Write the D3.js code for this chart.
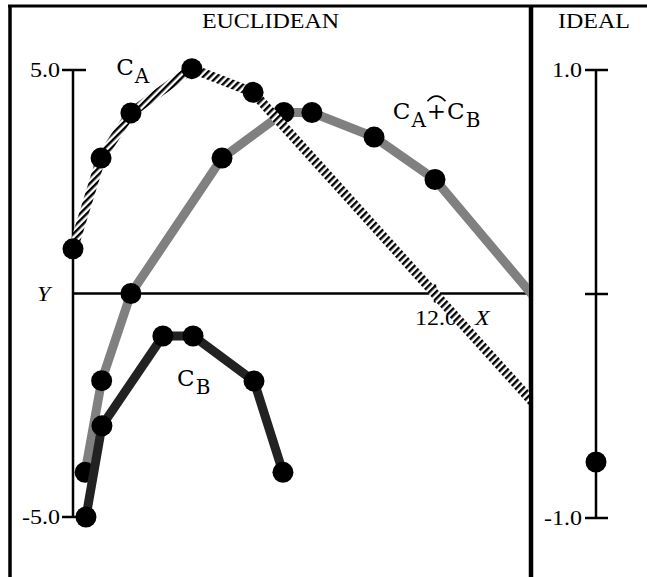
<!DOCTYPE html>
<html>
<head>
<meta charset="utf-8">
<script src="https://cdn.jsdelivr.net/npm/d3@7"></script>
<style>
  html, body { margin: 0; padding: 0; background: #fff; }
  svg { display: block; }
</style>
</head>
<body>
<svg id="chart" width="647" height="577"></svg>
<script>
// ---- data -------------------------------------------------------------
// curve C_A (hatched), last point lies beyond the panel edge
const curveA_x = [0, 0.93, 1.92, 3.94, 5.97, 16];
const curveA_y = [1, 3.03, 4.04, 5.03, 4.5, -3];
// curve C_A (+) C_B (grey), last point lies beyond the panel edge
const curveSum_x = [0.4, 0.95, 1.92, 4.94, 6.99, 7.92, 9.98, 12, 16];
const curveSum_y = [-4, -1.95, 0, 3.03, 4.05, 4.05, 3.5, 2.55, -0.65];
// curve C_B (dark)
const curveB_x = [0.43, 0.96, 2.98, 3.98, 6.0, 6.96];
const curveB_y = [-5, -2.96, -0.95, -0.95, -1.96, -4];
// ideal panel
const idealValues = [-0.75];

const yTickValues = [-5, 5];
const yTickLabels = ["-5.0", "5.0"];
const xTickValues = [12];
const xTickLabels = ["12.0"];
const idealTickValues = [-1, 0, 1];
const idealTickLabels = ["-1.0", "", "1.0"];
const panelTitles = ["EUCLIDEAN", "IDEAL"];
const axisNames = ["X", "Y"];

// ---- setup ------------------------------------------------------------
const W = 647, H = 577;
const svg = d3.select("#chart");
svg.append("rect").attr("width", W).attr("height", H).attr("fill", "#fff");

const serif = "'Liberation Serif', 'Times New Roman', serif";
const slab = "'DejaVu Serif', serif";
const STRETCH = 1.2;

const x = d3.scaleLinear().domain([0, 12]).range([73, 435]);
const y = d3.scaleLinear().domain([-5, 5]).range([517, 70]);
const yIdeal = d3.scaleLinear().domain([-1, 1]).range([518, 70]);
const idealX = 596;
const divX = 531;

const zip = (xs, ys) => xs.map((v, i) => [v, ys[i]]);
const ptsA = zip(curveA_x, curveA_y);
const ptsSum = zip(curveSum_x, curveSum_y);
const ptsB = zip(curveB_x, curveB_y);

// serif text, slightly widened
function label(g, px, py, str, anchor, italic) {
  return g.append("text")
    .attr("transform", `translate(${px},${py}) scale(${STRETCH},1)`)
    .attr("text-anchor", anchor)
    .attr("font-family", serif)
    .attr("font-size", 20)
    .attr("font-style", italic ? "italic" : "normal")
    .attr("fill", "#000")
    .text(str);
}

// diagonal stripe pattern for the hatched curve
const defs = svg.append("defs");
const P = 4.8;
const pat = defs.append("pattern")
  .attr("id", "hatch")
  .attr("patternUnits", "userSpaceOnUse")
  .attr("width", P).attr("height", P)
  .attr("patternTransform", "rotate(45)");
pat.append("rect").attr("width", P).attr("height", P).attr("fill", "#fff");
pat.append("rect").attr("width", P / 2).attr("height", P).attr("fill", "#000");

defs.append("clipPath").attr("id", "panelClip")
  .append("rect").attr("x", 0).attr("y", 0).attr("width", divX - 2).attr("height", H);

// ---- frame ------------------------------------------------------------
const frame = svg.append("g").attr("stroke", "#000").attr("fill", "none");
frame.append("line").attr("x1", 8).attr("x2", W).attr("y1", 6).attr("y2", 6).attr("stroke-width", 3);
frame.append("line").attr("x1", 10).attr("x2", 10).attr("y1", 5).attr("y2", H).attr("stroke-width", 3.5);
frame.append("line").attr("x1", divX).attr("x2", divX).attr("y1", 5).attr("y2", H).attr("stroke-width", 4.5);

const titles = svg.append("g");
label(titles, (10 + divX) / 2, 28, panelTitles[0], "middle");
label(titles, 594, 28, panelTitles[1], "middle");

// ---- euclidean axes ---------------------------------------------------
const axes = svg.append("g").attr("stroke", "#000").attr("stroke-width", 2.5);
axes.append("line").attr("x1", x(0)).attr("x2", x(0)).attr("y1", y(5)).attr("y2", y(-5));
axes.append("line").attr("x1", x(0)).attr("x2", divX).attr("y1", y(0)).attr("y2", y(0));
axes.selectAll("line.ytick").data(yTickValues).join("line").attr("class", "ytick")
  .attr("x1", x(0) - 11).attr("x2", x(0) + 13)
  .attr("y1", d => y(d)).attr("y2", d => y(d));
axes.selectAll("line.xtick").data(xTickValues).join("line").attr("class", "xtick")
  .attr("x1", d => x(d)).attr("x2", d => x(d))
  .attr("y1", y(0) - 9).attr("y2", y(0) + 9);

const tickText = svg.append("g");
yTickValues.forEach((v, i) => label(tickText, x(0) - 13, y(v) + 7, yTickLabels[i], "end"));
xTickValues.forEach((v, i) => label(tickText, x(v) + 1, y(0) + 31, xTickLabels[i], "middle"));
label(tickText, 475, y(0) + 31, axisNames[0], "start", true);
label(tickText, 37, y(0) + 7, axisNames[1], "start", true);

// ---- ideal axis -------------------------------------------------------
const iaxis = svg.append("g").attr("stroke", "#000").attr("stroke-width", 2.5);
iaxis.append("line").attr("x1", idealX).attr("x2", idealX).attr("y1", yIdeal(1)).attr("y2", yIdeal(-1));
iaxis.selectAll("line.itick").data(idealTickValues).join("line").attr("class", "itick")
  .attr("x1", idealX - 11).attr("x2", idealX + 12)
  .attr("y1", d => yIdeal(d)).attr("y2", d => yIdeal(d));
idealTickValues.forEach((v, i) => {
  if (idealTickLabels[i]) label(tickText, idealX - 14, yIdeal(v) + 7, idealTickLabels[i], "end");
});
svg.append("g").selectAll("circle").data(idealValues).join("circle")
  .attr("cx", idealX).attr("cy", d => yIdeal(d)).attr("r", 10.5).attr("fill", "#000");

// ---- curve labels -----------------------------------------------------
function curveLabel(g, pos, parts) {
  const t = g.append("text")
    .attr("x", x(pos[0])).attr("y", y(pos[1]))
    .attr("font-family", slab).attr("fill", "#000")
    .attr("letter-spacing", 1);
  let shift = 0;
  parts.forEach(p => {
    const dy = (p.sub ? 8 : 0) - shift;
    shift = p.sub ? 8 : 0;
    t.append("tspan").attr("dy", dy).attr("font-size", p.sub ? 20 : 23).text(p.s);
  });
  return t;
}
const labels = svg.append("g");
curveLabel(labels, [1.43, 4.88], [{s: "C"}, {s: "A", sub: true}]);
const sumLabel = curveLabel(labels, [10.6, 3.9],
  [{s: "C"}, {s: "A", sub: true}, {s: "+"}, {s: "C"}, {s: "B", sub: true}]);
curveLabel(labels, [3.45, -2.08], [{s: "C"}, {s: "B", sub: true}]);

// arc over the "+" sign
const plusBox = sumLabel.node().getExtentOfChar(2);
const pcx = plusBox.x + plusBox.width / 2 - 0.5;
const base = y(3.9);
labels.append("path")
  .attr("d", `M${pcx - 9},${base - 18} Q${pcx},${base - 28} ${pcx + 9},${base - 18}`)
  .attr("fill", "none").attr("stroke", "#000").attr("stroke-width", 1.6);

// ---- curves -----------------------------------------------------------
const line = d3.line().x(d => x(d[0])).y(d => y(d[1]));
const plot = svg.append("g").attr("clip-path", "url(#panelClip)");

plot.append("path").datum(ptsSum).attr("d", line)
  .attr("fill", "none").attr("stroke", "#808080").attr("stroke-width", 9)
  .attr("stroke-linejoin", "round");
plot.append("g").selectAll("circle").data(ptsSum).join("circle")
  .attr("cx", d => x(d[0])).attr("cy", d => y(d[1])).attr("r", 10.5).attr("fill", "#000");

plot.append("path").datum(ptsB).attr("d", line)
  .attr("fill", "none").attr("stroke", "#222").attr("stroke-width", 9)
  .attr("stroke-linejoin", "round");
plot.append("g").selectAll("circle").data(ptsB).join("circle")
  .attr("cx", d => x(d[0])).attr("cy", d => y(d[1])).attr("r", 10.5).attr("fill", "#000");

plot.append("path").datum(ptsA).attr("d", line)
  .attr("fill", "none").attr("stroke", "url(#hatch)").attr("stroke-width", 9.5)
  .attr("stroke-linejoin", "round");
plot.append("g").selectAll("circle").data(ptsA).join("circle")
  .attr("cx", d => x(d[0])).attr("cy", d => y(d[1])).attr("r", 10.5).attr("fill", "#000");
</script>
</body>
</html>
